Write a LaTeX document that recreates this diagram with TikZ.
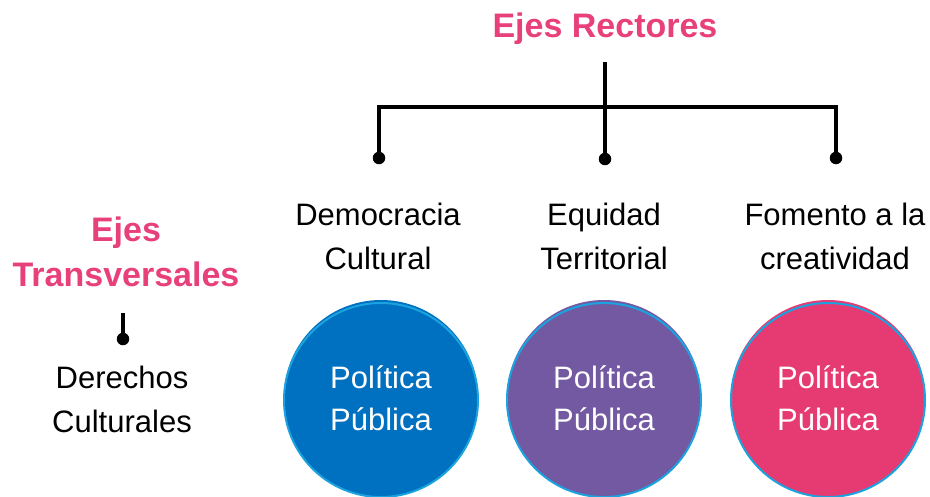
\documentclass[tikz,border=0pt]{standalone}
\usepackage{fontspec}
\setmainfont{Liberation Sans}
\definecolor{rosa}{HTML}{E8407A}
\definecolor{azul}{HTML}{0070C0}
\definecolor{morado}{HTML}{7358A2}
\definecolor{fucsia}{HTML}{E63B72}
\definecolor{celeste}{HTML}{1AA3DE}
\tikzset{
  eje/.style={text=rosa, font=\fontsize{34}{45}\selectfont\bfseries, align=center},
  lbl/.style={font=\fontsize{31}{44}\selectfont, align=center},
  pp/.style={circle, minimum size=194pt, inner sep=0pt, line width=2pt},
  pptxt/.style={text=white, font=\fontsize{31}{42}\selectfont, align=center},
  dot/.style={circle, fill=black, inner sep=0pt, minimum size=12.5pt}
}
\begin{document}
\begin{tikzpicture}[x=1pt, y=-1pt, line width=3.5pt]
	\useasboundingbox (0,0) rectangle (930,496);
	\node[eje] (rect) at (605,29) {Ejes Rectores};
	\node[eje] (trans) at (126,252) {Ejes\\Transversales};
	\coordinate (top) at (605,62);
	\coordinate (bl) at (379,107);
	\coordinate (br) at (836,107);
	\node[dot] (d1) at (379,158) {};
	\node[dot] (d2) at (605,159) {};
	\node[dot] (d3) at (836,158) {};
	\draw (d1.center) -- (bl) -- (br) -- (d3.center);
	\draw (top) -- (d2.center);
	\coordinate (tt) at (123,313);
	\node[dot] (d0) at (123,339) {};
	\draw (tt) -- (d0.center);
	\node[lbl] (dc) at (378,236) {Democracia\\Cultural};
	\node[lbl] (et) at (604,236) {Equidad\\Territorial};
	\node[lbl] (fc) at (835,236) {Fomento a la\\creatividad};
	\node[lbl] (dcul) at (122,399) {Derechos\\Culturales};
	\foreach \x/\c/\n in {381/azul/p1, 604/morado/p2, 828/fucsia/p3}{
		\fill[\c] (\x,397) circle (97pt);
		\node[pp, fill=\c, draw=celeste] (\n) at (\x,400) {};
		\node[pptxt] (\n t) at (\x,398) {Política\\Pública};
	}
\end{tikzpicture}
\end{document}
